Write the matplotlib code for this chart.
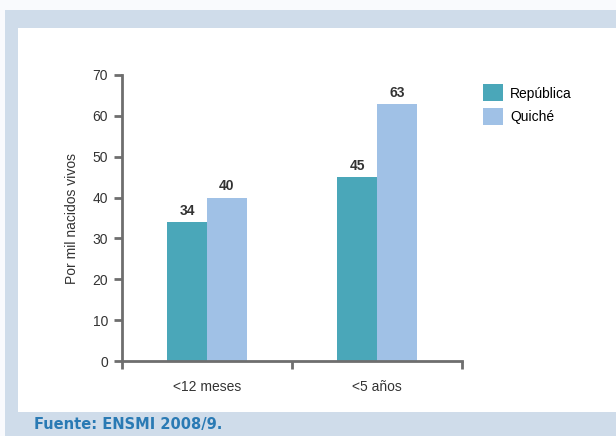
import matplotlib.pyplot as plt
from matplotlib.patches import Rectangle
import numpy as np

plt.rcParams['font.family'] = ['Liberation Sans Narrow', 'Liberation Sans', 'DejaVu Sans']

categorias = ['<12 meses', '<5 años']
republica = [34, 45]
quiche = [40, 63]
series = ['República', 'Quiché']
fuente = 'Fuente: ENSMI 2008/9.'

col_rep = '#4aa7b9'
col_qui = '#a0c1e6'
gris = '#6e6e6e'

fig = plt.figure(figsize=(6.16, 4.36), dpi=100)
fig.patch.set_facecolor('#f9fafd')

# marco azul claro y fondo blanco
fig.patches.append(Rectangle((5/616, 0), 611/616, 426/436, transform=fig.transFigure,
                             facecolor='#cfdcea', edgecolor='none', zorder=-2))
fig.patches.append(Rectangle((18/616, 24/436), 598/616, 384/436, transform=fig.transFigure,
                             facecolor='white', edgecolor='none', zorder=-1))

ax = fig.add_axes([122/616, 75/436, 340/616, 286/436])
ax.set_facecolor('none')

x = np.array([0.5, 1.5])
w = 0.235
b1 = ax.bar(x - w/2, republica, w, color=col_rep, label=series[0])
b2 = ax.bar(x + w/2, quiche, w, color=col_qui, label=series[1])

for bars, vals in ((b1, republica), (b2, quiche)):
    for r, v in zip(bars, vals):
        ax.text(r.get_x() + r.get_width()/2, v + 1, str(v), ha='center', va='bottom',
                fontsize=10, fontweight='bold', color='#333333')

ax.set_xlim(0, 2)
ax.set_ylim(0, 70)
ax.set_yticks(range(0, 71, 10))
ax.set_xticks([0, 1, 2])
ax.set_xticklabels([])
ax.set_xticks(x, minor=True)
ax.set_xticklabels(categorias, minor=True)
ax.tick_params(axis='x', which='minor', length=0, pad=14, labelsize=10, labelcolor='#333333')
ax.tick_params(axis='x', which='major', length=6, width=2, color=gris)
ax.tick_params(axis='y', length=6, width=2, color=gris, labelsize=10, labelcolor='#333333', pad=4)

for s in ['top', 'right']:
    ax.spines[s].set_visible(False)
for s in ['left', 'bottom']:
    ax.spines[s].set_color(gris)
    ax.spines[s].set_linewidth(2)
ax.spines['left'].set_bounds(0, 70)

ax.set_ylabel('Por mil nacidos vivos', fontsize=10, color='#333333', labelpad=10)

fig.legend(handles=[b1, b2], labels=series, loc='upper left',
           bbox_to_anchor=(470/616, 1 - 72/436), frameon=False,
           fontsize=10, handlelength=1.5, handleheight=1.5,
           handletextpad=0.5, labelspacing=0.5)

fig.text(34/616, 1 - 424/436, fuente, fontsize=10.5, fontweight='bold',
         color='#2a7ab4', family='DejaVu Sans', va='center', ha='left')

fig.savefig('out.png', dpi=100, facecolor=fig.get_facecolor())
